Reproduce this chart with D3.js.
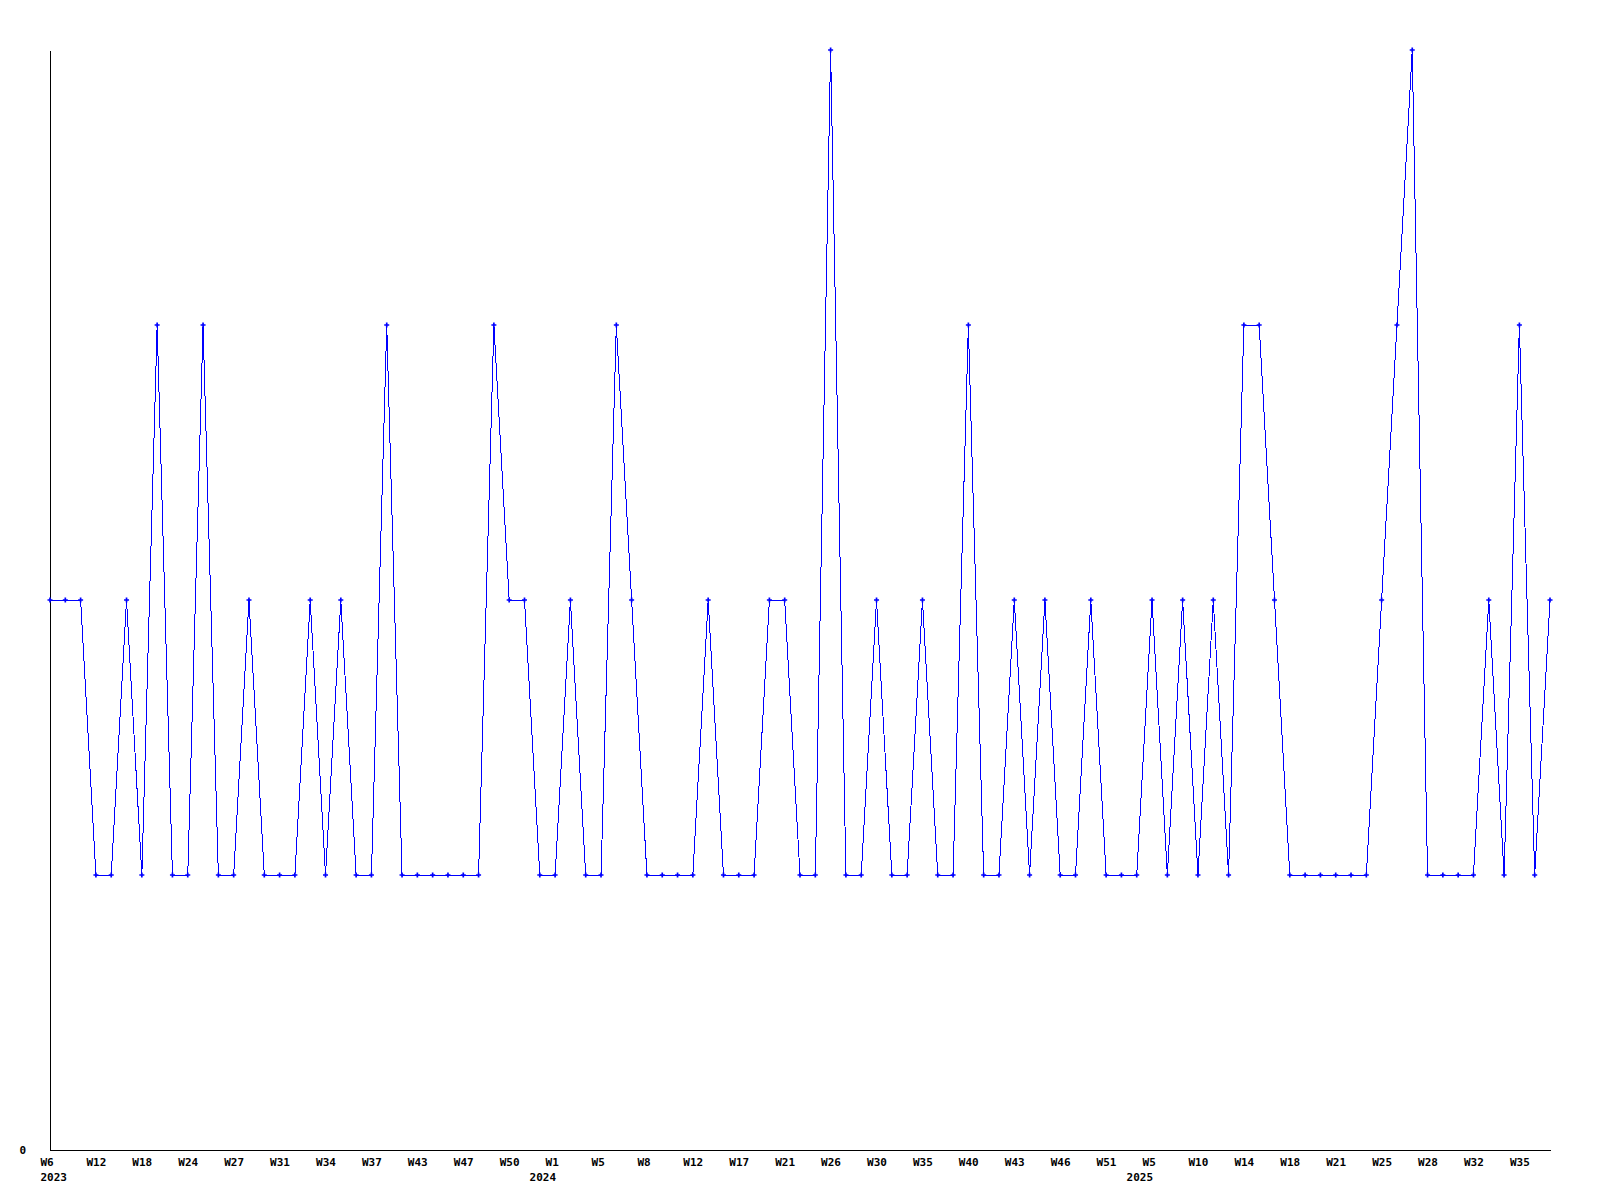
<!DOCTYPE html>
<html>
<head>
<meta charset="utf-8">
<script src="https://cdn.jsdelivr.net/npm/d3@7/dist/d3.min.js"></script>
<style>
  html, body { margin: 0; padding: 0; background: #ffffff; }
  svg { display: block; }
  .axis text { font-family: "DejaVu Sans Mono", monospace; font-weight: bold; font-size: 11px; fill: #000; }
</style>
</head>
<body>
<svg id="chart" width="1600" height="1200"></svg>
<script>
// ISO year of each point
const years = [
  2023,2023,2023,2023,2023,2023,2023,2023,2023,2023,2023,2023,2023,2023,2023,2023,2023,2023,2023,2023,
  2023,2023,2023,2023,2023,2023,2023,2023,2023,2023,2023,2023,2023,
  2024,2024,2024,2024,2024,2024,2024,2024,2024,2024,2024,2024,2024,2024,2024,2024,2024,2024,2024,2024,
  2024,2024,2024,2024,2024,2024,2024,2024,2024,2024,2024,2024,2024,2024,2024,2024,2024,2024,
  2025,2025,2025,2025,2025,2025,2025,2025,2025,2025,2025,2025,2025,2025,2025,2025,2025,2025,2025,2025,
  2025,2025,2025,2025,2025,2025,2025,2025
];
// ISO week of each point
const weeks = [
  6,8,10,12,14,16,18,20,22,24,25,26,27,29,30,31,32,33,34,35,
  36,37,39,41,43,44,46,47,48,49,50,51,52,
  1,3,4,5,6,7,8,10,11,12,14,15,17,19,20,21,23,24,26,28,
  29,30,32,33,35,37,38,40,41,42,43,44,45,46,48,49,51,52,
  2,5,7,9,10,12,13,14,15,17,18,19,20,21,23,24,25,26,27,28,
  30,31,32,33,34,35,36,37
];
// value per week
const values = [
  2,2,2,1,1,2,1,3,1,1,3,1,1,2,1,1,1,2,1,2,
  1,1,3,1,1,1,1,1,1,3,2,2,1,
  1,2,1,1,3,2,1,1,1,1,2,1,1,1,2,2,1,1,4,1,
  1,2,1,1,2,1,1,3,1,1,2,1,2,1,1,2,1,1,1,
  2,1,2,1,2,1,3,3,2,1,1,1,1,1,1,2,3,4,1,1,
  1,1,2,1,3,1,2
];
// y-axis tick labels
const yTicks = [0];

const data = values.map((v, i) => ({ key: years[i] + "-W" + weeks[i], year: years[i], week: weeks[i], value: v }));

const svg = d3.select("#chart");
const x = d3.scalePoint().domain(data.map(d => d.key)).range([50, 1550]).padding(0);
const y = d3.scaleLinear().domain([0, 4]).range([1150, 50]);

// tick every third category
const tickKeys = data.filter((d, i) => i % 3 === 0).map(d => d.key);
const byKey = new Map(data.map(d => [d.key, d]));
const seenYears = new Set();
const firstOfYear = new Set();
tickKeys.forEach(k => { const yr = byKey.get(k).year; if (!seenYears.has(yr)) { seenYears.add(yr); firstOfYear.add(k); } });

const xAxis = svg.append("g").attr("class", "axis")
  .attr("transform", "translate(0,1150)")
  .call(d3.axisBottom(x).tickValues(tickKeys).tickSize(0).tickPadding(8).tickFormat(k => "W" + byKey.get(k).week));
xAxis.select(".domain").attr("stroke", "#000").attr("shape-rendering", "crispEdges");
xAxis.selectAll(".tick text").attr("text-anchor", "start").attr("x", -10)
  .each(function(k) {
    if (firstOfYear.has(k)) {
      const px = x(k);
      const start = Math.max(40, px - 26) - px;
      d3.select(this).append("tspan").attr("x", start).attr("dy", "15").text(byKey.get(k).year);
    }
  });

const yAxis = svg.append("g").attr("class", "axis")
  .attr("transform", "translate(50,0)")
  .call(d3.axisLeft(y).tickValues(yTicks).tickSize(0).tickPadding(24).tickFormat(d3.format("d")));
yAxis.select(".domain").attr("stroke", "#000").attr("shape-rendering", "crispEdges");

const line = d3.line().x(d => x(d.key)).y(d => y(d.value));
svg.append("path").datum(data)
  .attr("d", line)
  .attr("fill", "none")
  .attr("stroke", "#0000ff")
  .attr("stroke-width", 1)
  .attr("shape-rendering", "crispEdges");

svg.append("g").selectAll("path").data(data).join("path")
  .attr("transform", d => `translate(${x(d.key)},${y(d.value)})`)
  .attr("d", d3.symbol(d3.symbolCross, 14))
  .attr("fill", "#0000ff");
</script>
</body>
</html>
